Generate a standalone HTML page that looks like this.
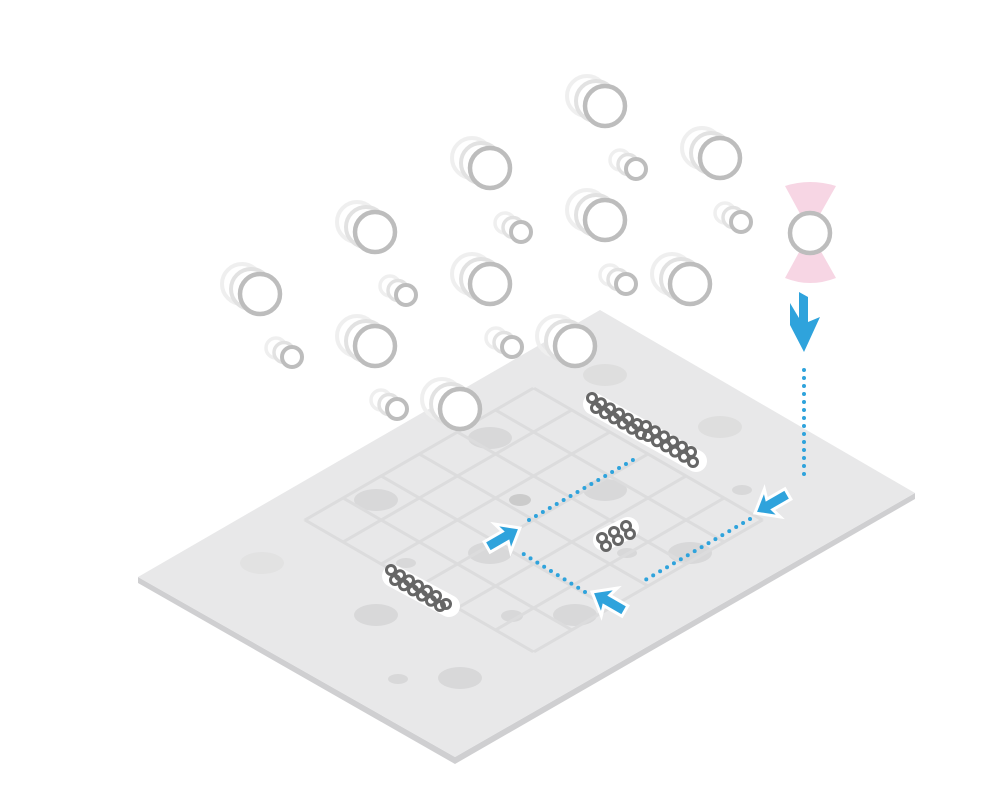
<!DOCTYPE html>
<html><head><meta charset="utf-8"><style>html,body{margin:0;padding:0;background:#fff}svg{display:block}</style></head>
<body>
<svg width="1000" height="790" viewBox="0 0 1000 790" xmlns="http://www.w3.org/2000/svg">
<defs>
<g id="big"><circle cx="-18" cy="-10" r="20" fill="none" stroke="#efefef" stroke-width="4"/><circle cx="-9" cy="-5" r="20" fill="#fff" stroke="#e2e2e2" stroke-width="4"/><circle r="20" fill="#fff" stroke="#bdbdbd" stroke-width="4.5"/></g>
<g id="sm"><circle cx="-16" cy="-9" r="10" fill="none" stroke="#efefef" stroke-width="3.5"/><circle cx="-8" cy="-4.5" r="10" fill="#fff" stroke="#e2e2e2" stroke-width="3.5"/><circle r="10" fill="#fff" stroke="#bdbdbd" stroke-width="4"/></g>
<circle id="lk" r="4.5" fill="none" stroke="#666" stroke-width="3"/>
<polygon id="arr" points="0,0 -20,-16 -17,-6 -38,-6 -38,6 -17,6 -20,16" fill="#2fa3dc" stroke="#fff" stroke-width="3" stroke-linejoin="miter"/>
<g id="row6"><use href="#lk" x="0" y="0"/><use href="#lk" x="9" y="5.2"/><use href="#lk" x="18" y="10.4"/><use href="#lk" x="27" y="15.6"/><use href="#lk" x="36" y="20.8"/><use href="#lk" x="45" y="26"/></g>
</defs>
<polygon points="138,583 455,764 915,499 915,493 455,757 138,577" fill="#cfcfd1"/>
<polygon points="138,577 600,310 915,493 455,757" fill="#e8e8e9"/>
<g fill="#d8d8d9">
<ellipse cx="490" cy="438" rx="22" ry="11"/><ellipse cx="376" cy="500" rx="22" ry="11"/><ellipse cx="605" cy="375" rx="22" ry="11" fill="#dedede"/>
<ellipse cx="605" cy="490" rx="22" ry="11"/><ellipse cx="720" cy="427" rx="22" ry="11" fill="#dedede"/><ellipse cx="690" cy="553" rx="22" ry="11"/>
<ellipse cx="490" cy="553" rx="22" ry="11"/><ellipse cx="376" cy="615" rx="22" ry="11"/><ellipse cx="575" cy="615" rx="22" ry="11"/>
<ellipse cx="460" cy="678" rx="22" ry="11"/><ellipse cx="520" cy="500" rx="11" ry="6" fill="#cbcbcb"/><ellipse cx="627" cy="553" rx="10" ry="5"/>
<ellipse cx="512" cy="616" rx="11" ry="6"/><ellipse cx="398" cy="679" rx="10" ry="5"/><ellipse cx="742" cy="490" rx="10" ry="5"/>
<ellipse cx="262" cy="563" rx="22" ry="11" fill="#e2e2e2"/><ellipse cx="406" cy="563" rx="10" ry="5"/>
</g>
<g transform="matrix(0.866,-0.5,0.866,0.5,305,520)" stroke="#dcdcdd" stroke-width="3.5" fill="none">
<path d="M0,0V264M44,0V264M88,0V264M132,0V264M176,0V264M220,0V264M264,0V264M0,0H264M0,44H264M0,88H264M0,132H264M0,176H264M0,220H264M0,264H264"/>
</g>
<use href="#big" x="605" y="106"/><use href="#sm" x="636" y="169"/><use href="#big" x="720" y="158"/>
<use href="#big" x="490" y="168"/><use href="#big" x="605" y="220"/><use href="#sm" x="521" y="232"/><use href="#sm" x="741" y="222"/>
<use href="#big" x="375" y="232"/><use href="#big" x="490" y="284"/><use href="#sm" x="626" y="284"/><use href="#big" x="690" y="284"/>
<use href="#sm" x="406" y="295"/><use href="#big" x="260" y="294"/><use href="#big" x="375" y="346"/><use href="#sm" x="512" y="347"/>
<use href="#big" x="575" y="346"/><use href="#sm" x="292" y="357"/><use href="#sm" x="397" y="409"/><use href="#big" x="460" y="409"/>
<path d="M785,186 Q810,178 836,186 L810,232 Z M785,278 Q810,288 836,278 L810,232 Z" fill="#f7d6e4"/>
<circle cx="810" cy="233" r="20" fill="#fff" stroke="#bdbdbd" stroke-width="4.5"/>
<polygon points="799,292 808,297 808,322 820,317 804,352 790,325 790,303 799,318" fill="#2fa3dc"/>
<g fill="none" stroke="#fff" stroke-width="22" stroke-linecap="round">
<path d="M594,404L696,461"/><path d="M604,540L628,528"/><path d="M393,576L449,606"/>
</g>
<g>
<use href="#row6" x="592" y="398"/><use href="#row6" x="596" y="408"/>
<use href="#row6" x="646" y="426"/><use href="#row6" x="648" y="436"/>
<use href="#lk" x="602" y="538"/><use href="#lk" x="606" y="546"/><use href="#lk" x="614" y="532"/><use href="#lk" x="618" y="540"/><use href="#lk" x="626" y="526"/><use href="#lk" x="630" y="534"/>
<use href="#row6" x="391" y="570"/><use href="#row6" x="395" y="580"/><use href="#lk" x="446" y="604"/>
</g>
<g stroke="#2fa3dc" stroke-width="4" stroke-linecap="round" stroke-dasharray="0 8" fill="none">
<path d="M804,370V480"/><path d="M750,519L640,583"/><path d="M585,592L517,550"/><path d="M529,520L638,457"/>
</g>
<use href="#arr" transform="translate(755,513) rotate(150)"/>
<use href="#arr" transform="translate(592,592) rotate(210)"/>
<use href="#arr" transform="translate(520,528) rotate(-30)"/>
</svg>
</body></html>
